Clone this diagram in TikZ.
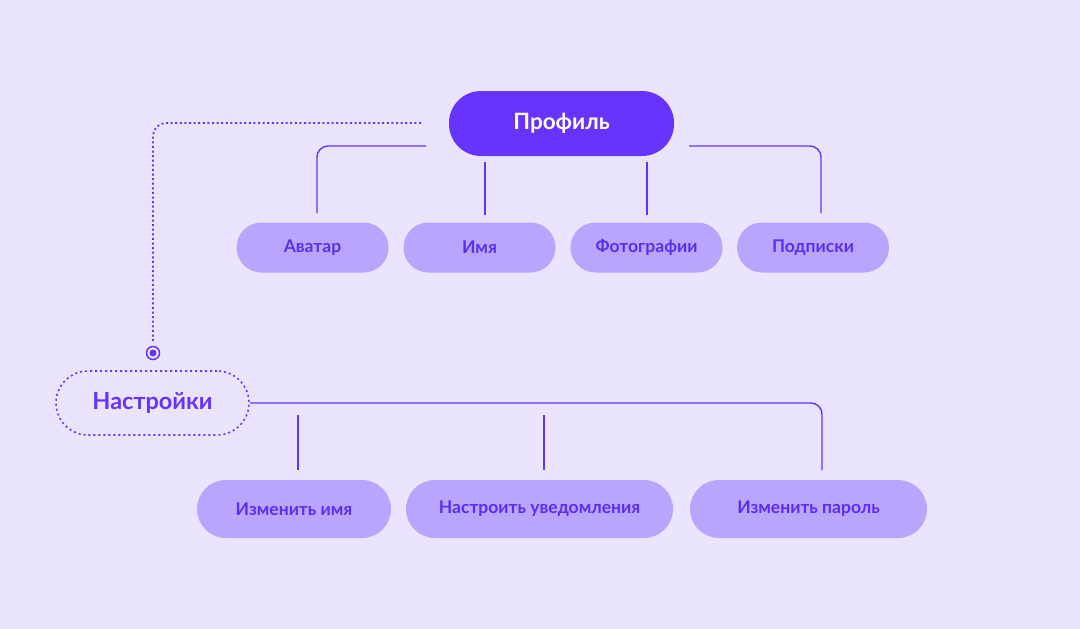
\documentclass[tikz,border=0pt]{standalone}
\usepackage{fontspec}
\setmainfont{Lato}
\definecolor{bg}{HTML}{EAE4FE}
\definecolor{prim}{HTML}{6633FF}
\definecolor{light}{HTML}{B9A5FE}
\definecolor{ink}{HTML}{5C2EF0}
\tikzset{
  mainbox/.style={fill=prim, text=white, rounded corners=32pt, minimum width=225pt, minimum height=65pt, inner sep=0pt, font=\bfseries\fontsize{22.5}{26}\selectfont},
  childbox/.style={fill=light, text=ink, rounded corners=25pt, minimum height=50pt, minimum width=152pt, inner sep=0pt, font=\bfseries\fontsize{17.5}{20}\selectfont},
  leafbox/.style={fill=light, text=ink, rounded corners=29pt, minimum height=58pt, inner sep=0pt, font=\bfseries\fontsize{17.5}{20}\selectfont},
  setbox/.style={draw=prim, line width=1.6pt, dash pattern=on 2pt off 3pt, text=prim, rounded corners=32pt, minimum width=193pt, minimum height=64pt, inner sep=0pt, font=\bfseries\fontsize{23.5}{27}\selectfont},
  link/.style={draw=prim, line width=1.4pt, rounded corners=11pt},
  dotlink/.style={draw=prim, line width=1.7pt, dash pattern=on 2pt off 2.6pt, rounded corners=13pt},
}
\begin{document}
\begin{tikzpicture}[x=1pt,y=-1pt]
\useasboundingbox (0,0) rectangle (1080,629);
\fill[bg] (0,0) rectangle (1080,629);

\node[mainbox] (prof) at (561.5,123.5) {Профиль};
\node[childbox] (ava) at (312.5,247.5) {Аватар};
\node[childbox] (name) at (479.5,247.5) {Имя};
\node[childbox] (foto) at (646.5,247.5) {Фотографии};
\node[childbox] (subs) at (813,247.5) {Подписки};

\node[setbox] (set) at (152.5,403) {Настройки};
\node[leafbox, minimum width=194pt] (chname) at (294,509) {Изменить имя};
\node[leafbox, minimum width=267pt] (notif) at (539.5,509) {Настроить уведомления};
\node[leafbox, minimum width=237pt] (pass) at (808.5,509) {Изменить пароль};

% top connectors
\coordinate (pl) at (426,146);
\coordinate (pr) at (689,146);
\coordinate (avaT) at (317,213);
\coordinate (subsT) at (821,213);
\draw[link] (pl) -| (avaT);
\draw[link] (pr) -| (subsT);
\coordinate (nameA) at (485,162);
\coordinate (nameB) at (485,215);
\coordinate (fotoA) at (647,162);
\coordinate (fotoB) at (647,215);
\draw[link] (nameA) -- (nameB);
\draw[link] (fotoA) -- (fotoB);

% dotted link to settings
\coordinate (dA) at (421,123);
\coordinate (dB) at (153,343);
\coordinate (mark) at (153,353);
\draw[dotlink] (dA) -| (dB);
\draw[prim, line width=1.5pt] (mark) circle (6.5pt);
\fill[prim] (mark) circle (3.5pt);

% settings connectors
\coordinate (sR) at (822,470);
\draw[link] (set.east) -| (sR);
\coordinate (s1A) at (298,415);
\coordinate (s1B) at (298,470);
\coordinate (s2A) at (544,415);
\coordinate (s2B) at (544,470);
\draw[link] (s1A) -- (s1B);
\draw[link] (s2A) -- (s2B);
\end{tikzpicture}
\end{document}
